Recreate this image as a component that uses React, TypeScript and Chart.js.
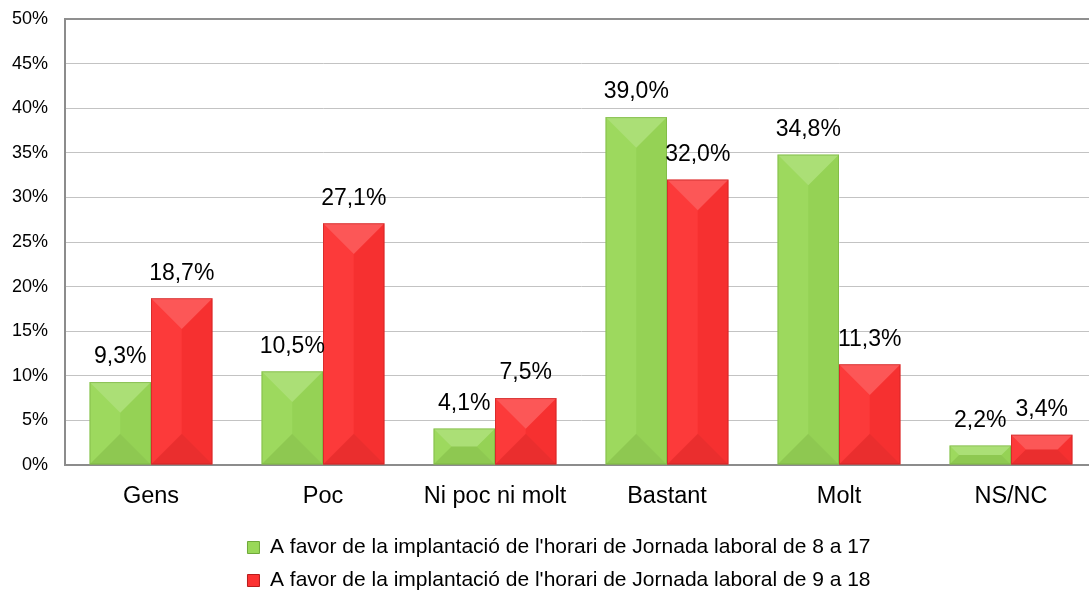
import React, { useEffect, useRef } from "react";
import { Chart, registerables } from "chart.js";

Chart.register(...registerables);

const categories = ["Gens", "Poc", "Ni poc ni molt", "Bastant", "Molt", "NS/NC"];
const seriesNames = [
  "A favor de la implantació de l'horari de Jornada laboral de 8 a 17",
  "A favor de la implantació de l'horari de Jornada laboral de 9 a 18",
];
const series8a17 = [9.3, 10.5, 4.1, 39.0, 34.8, 2.2];
const series9a18 = [18.7, 27.1, 7.5, 32.0, 11.3, 3.4];
const yTicks = [0, 5, 10, 15, 20, 25, 30, 35, 40, 45, 50];

const FONT = '"Liberation Sans", Arial, Helvetica, sans-serif';
const GREEN = "#99d858";
const RED = "#fc3232";
const GREEN_EDGE = "#6fa83a";
const RED_EDGE = "#b81c1c";

const fmt = (v: number) => v.toFixed(1).replace(".", ",") + "%";

const bevelPlugin = {
  id: "bevel",
  afterDatasetsDraw(chart: any) {
    const { ctx } = chart;
    ctx.save();
    chart.data.datasets.forEach((ds: any, i: number) => {
      const meta = chart.getDatasetMeta(i);
      const edge = i === 0 ? GREEN_EDGE : RED_EDGE;
      meta.data.forEach((bar: any) => {
        const { x, y, base, width } = bar.getProps(["x", "y", "base", "width"], true);
        const l = x - width / 2;
        const r = x + width / 2;
        const t = Math.min(y, base);
        const b = Math.max(y, base);
        const d = Math.min(width / 2, (b - t) / 2);
        const poly = (pts: number[][], fill: string) => {
          ctx.beginPath();
          ctx.moveTo(pts[0][0], pts[0][1]);
          for (let k = 1; k < pts.length; k++) ctx.lineTo(pts[k][0], pts[k][1]);
          ctx.closePath();
          ctx.fillStyle = fill;
          ctx.fill();
        };
        poly([[l, t], [r, t], [r - d, t + d], [l + d, t + d]], "rgba(255,255,255,0.18)");
        poly([[l, t], [l + d, t + d], [l + d, b - d], [l, b]], "rgba(255,255,255,0.04)");
        poly([[r, t], [r - d, t + d], [r - d, b - d], [r, b]], "rgba(0,0,0,0.025)");
        poly([[l, b], [r, b], [r - d, b - d], [l + d, b - d]], "rgba(0,0,0,0.07)");
        ctx.strokeStyle = edge;
        ctx.globalAlpha = 0.5;
        ctx.lineWidth = 1;
        ctx.strokeRect(l + 0.5, t + 0.5, width - 1, b - t - 1);
        ctx.globalAlpha = 1;
      });
    });
    ctx.restore();
  },
};

const valueLabelPlugin = {
  id: "valueLabels",
  afterDatasetsDraw(chart: any) {
    const { ctx } = chart;
    ctx.save();
    ctx.font = "23px " + FONT;
    ctx.fillStyle = "#000";
    ctx.textAlign = "center";
    ctx.textBaseline = "middle";
    chart.data.datasets.forEach((ds: any, i: number) => {
      const meta = chart.getDatasetMeta(i);
      meta.data.forEach((bar: any, j: number) => {
        const { x, y } = bar.getProps(["x", "y"], true);
        ctx.fillText(fmt(ds.data[j]), x, y - 25);
      });
    });
    ctx.restore();
  },
};

export default function App() {
  const ref = useRef<HTMLCanvasElement | null>(null);

  useEffect(() => {
    document.body.style.margin = "0";
    document.body.style.overflow = "hidden";
    const canvas = ref.current!;
    const chart = new Chart(canvas, {
      type: "bar",
      data: {
        labels: categories,
        datasets: [
          {
            label: seriesNames[0],
            data: series8a17,
            backgroundColor: GREEN,
            borderColor: GREEN_EDGE,
            borderWidth: 0,
            categoryPercentage: 0.715,
            barPercentage: 1.0,
          },
          {
            label: seriesNames[1],
            data: series9a18,
            backgroundColor: RED,
            borderColor: RED_EDGE,
            borderWidth: 0,
            categoryPercentage: 0.715,
            barPercentage: 1.0,
          },
        ],
      },
      options: {
        responsive: false,
        animation: false,
        devicePixelRatio: 1,
        layout: { padding: { top: 19, left: 0, right: 0, bottom: 0 } },
        plugins: {
          tooltip: { enabled: false },
          legend: {
            position: "bottom",
            labels: {
              font: { family: FONT, size: 21 },
              color: "#000",
              boxWidth: 12,
              boxHeight: 12,
              padding: 12,
              generateLabels: (c: any) =>
                c.data.datasets.map((ds: any, i: number) => ({
                  text: ds.label,
                  fillStyle: ds.backgroundColor,
                  strokeStyle: ds.borderColor,
                  lineWidth: 1,
                  datasetIndex: i,
                  hidden: false,
                })),
            },
          },
        },
        scales: {
          x: {
            grid: { display: false },
            border: { display: true, color: "#8c8c8c", width: 2 },
            ticks: { font: { family: FONT, size: 23.5 }, color: "#000", padding: 9 },
            afterFit: (s: any) => {
              s.height = 60;
              s.paddingLeft = 0;
              s.paddingRight = 0;
            },
          },
          y: {
            min: 0,
            max: 50,
            afterBuildTicks: (s: any) => {
              s.ticks = yTicks.map((v) => ({ value: v }));
            },
            grid: {
              drawTicks: false,
              color: (c: any) => (c.tick && c.tick.value === 50 ? "#8f8f8f" : "#c3c3c3"),
              lineWidth: (c: any) => (c.tick && c.tick.value === 50 ? 2 : 1),
            },
            border: { display: true, color: "#8c8c8c", width: 2 },
            ticks: {
              font: { family: FONT, size: 18 },
              color: "#000",
              padding: 17,
              callback: (v: any) => v + "%",
            },
            afterFit: (s: any) => {
              s.width = 65;
              s.paddingTop = 0;
              s.paddingBottom = 0;
            },
          },
          y2: {
            type: "linear",
            position: "right",
            display: true,
            grid: { display: false },
            border: { display: false },
            ticks: { display: false },
            afterFit: (s: any) => {
              s.width = 21;
              s.paddingTop = 0;
              s.paddingBottom = 0;
            },
          },
        },
      },
      plugins: [bevelPlugin, valueLabelPlugin],
    } as any);
    return () => chart.destroy();
  }, []);

  return (
    <div style={{ width: 1089, height: 595, overflow: "hidden", position: "relative", background: "#fff" }}>
      <canvas ref={ref} width={1118} height={601} style={{ position: "absolute", left: 0, top: 0 }} />
    </div>
  );
}
